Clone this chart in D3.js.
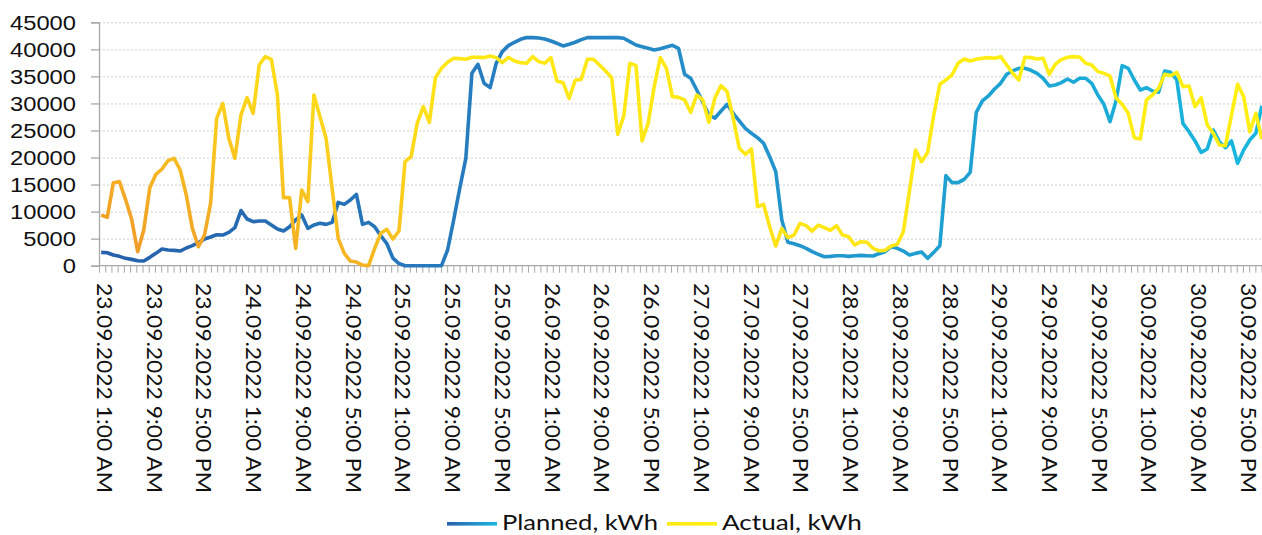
<!DOCTYPE html>
<html><head><meta charset="utf-8">
<script src="https://cdn.jsdelivr.net/npm/d3@7"></script>
<style>
html,body{margin:0;padding:0;background:#fff;}
svg{display:block;font-family:Lato,"Open Sans",sans-serif;}
</style>
</head><body>
<svg id="c" width="1262" height="535"></svg>
<script>
const xLabels = [
"23.09.2022 1:00 AM","23.09.2022 9:00 AM","23.09.2022 5:00 PM",
"24.09.2022 1:00 AM","24.09.2022 9:00 AM","24.09.2022 5:00 PM",
"25.09.2022 1:00 AM","25.09.2022 9:00 AM","25.09.2022 5:00 PM",
"26.09.2022 1:00 AM","26.09.2022 9:00 AM","26.09.2022 5:00 PM",
"27.09.2022 1:00 AM","27.09.2022 9:00 AM","27.09.2022 5:00 PM",
"28.09.2022 1:00 AM","28.09.2022 9:00 AM","28.09.2022 5:00 PM",
"29.09.2022 1:00 AM","29.09.2022 9:00 AM","29.09.2022 5:00 PM",
"30.09.2022 1:00 AM","30.09.2022 9:00 AM","30.09.2022 5:00 PM"];
const yTicks = [0,5000,10000,15000,20000,25000,30000,35000,40000,45000];
const seriesNames = ["Planned, kWh","Actual, kWh"];

const planned = [
2470,2400,1970,1730,1360,1170,920,860,1540,2280,
3080,2900,2840,2710,3270,3700,4250,4930,5300,5730,
5670,6170,7030,10200,8630,8140,8260,8260,7520,6780,
6410,7210,8450,9370,6900,7520,7830,7640,8010,11710,
11340,12140,13190,7640,8010,7210,5550,4100,1400,400,
0,0,0,0,0,0,0,2900,8450,14300,
19850,35570,37240,33720,32920,37420,39580,40690,41310,41860,
42170,42170,42110,41920,41550,41120,40630,40940,41310,41800,
42170,42170,42170,42170,42170,42170,42050,41430,40810,40500,
40200,39890,40130,40440,40750,40200,35390,34650,32490,30210,
27870,27300,28600,29840,28170,26760,25400,24480,23670,22630,
20160,17390,8450,4320,4070,3700,3210,2590,2100,1660,
1730,1850,1850,1730,1850,1910,1850,1790,2220,2590,
3510,3210,2710,1970,2280,2530,1360,2470,3700,16650,
15350,15350,15970,17260,28360,30460,31380,32670,33720,35390,
36000,36500,36500,36130,35570,34650,33230,33410,33850,34520,
33910,34650,34650,33720,31560,29840,26630,30500,36990,36500,
34340,32490,32920,32300,32060,36000,35760,34340,26320,24780,
23060,20960,21580,25090,22930,21820,23060,18930,21390,23240,
24480,29590];

const actual = [
9370,8940,15350,15540,12270,8630,2590,6600,14430,16890,
17880,19420,19850,17690,13070,6900,3510,5670,11530,27250,
30020,23550,19850,27870,31070,28170,37110,38650,38160,31560,
12580,12580,3200,13990,11840,31560,27560,23550,14300,5060,
2280,860,680,120,0,3200,5980,6720,4930,6410,
19230,20160,26320,29410,26510,34770,36500,37610,38350,38280,
38160,38530,38530,38470,38780,38470,37540,38530,37850,37540,
37420,38650,37730,37420,38470,34150,33840,30950,34280,34460,
38160,38160,37110,36000,34770,24290,27740,37420,36990,23060,
26320,33110,38470,36500,31260,31130,30640,28360,31560,30640,
26510,31070,33290,32180,27250,21700,20590,21580,10910,11340,
7210,3640,6900,5180,5670,7830,7400,6410,7520,7030,
6530,7400,5670,5360,3820,4440,4320,3210,2770,2840,
3640,3950,6290,13810,21390,19230,20960,27870,33540,34340,
35260,37420,38220,37850,38160,38350,38470,38350,38650,37110,
35570,34340,38530,38470,38220,38350,35390,37240,38100,38530,
38650,38590,37420,37110,35880,35570,35080,31000,29840,28170,
23670,23430,30640,31560,32800,35390,35140,35760,33110,33230,
29410,31070,26020,24480,22320,22190,27870,33540,31260,24780,
28170,23430];

const svg = d3.select("#c");
const axisX0 = 99, plotRight = 1262;
const y = d3.scaleLinear().domain([0,45000]).range([265.7,22.3]);
const nTicks = 188;
const xAxisScale = d3.scaleLinear().domain([0, nTicks-1]).range([axisX0, axisX0 + 6.217*(nTicks-1)]);
const xData = d3.scaleLinear().domain([0, planned.length-1]).range([101.2, 101.2 + 6.077*(planned.length-1)]);

const defs = svg.append("defs");
function grad(id, attrs, stops){
  const g = defs.append("linearGradient").attr("id", id);
  Object.entries(attrs).forEach(([k,v])=>g.attr(k,v));
  stops.forEach(([o,c])=>g.append("stop").attr("offset",o).attr("stop-color",c));
}
const blueStops = [[0,"#2660ab"],[0.45,"#2688c6"],[1,"#18b7dd"]];
grad("gBlue",{gradientUnits:"userSpaceOnUse",x1:100,y1:0,x2:1262,y2:0},blueStops);
grad("gBlueLeg",{gradientUnits:"userSpaceOnUse",x1:447,y1:0,x2:497,y2:0},blueStops);
const yelStops = [[0,"#ee9528"],[0.12,"#f3aa25"],[0.22,"#f8c21f"],[0.35,"#fdd81a"],[0.5,"#ffe715"],[1,"#fff012"]];
grad("gYel",{x1:0,y1:1,x2:1.207,y2:0.483},yelStops);
grad("gYelLeg",{gradientUnits:"userSpaceOnUse",x1:600,y1:0,x2:717,y2:0},yelStops);

const grid = svg.append("g").attr("transform",`translate(${axisX0},0)`)
  .call(d3.axisLeft(y).tickValues(yTicks.filter(v=>v>0)).tickSize(-(plotRight-axisX0)).tickFormat(""));
grid.select(".domain").remove();
grid.selectAll("line").attr("stroke","#cfcfcf").attr("stroke-width",1).attr("stroke-dasharray","2,2");

const yAx = svg.append("g").attr("transform",`translate(${axisX0},0)`)
  .call(d3.axisLeft(y).tickValues(yTicks).tickSize(8).tickPadding(15).tickFormat(d3.format("d")));
yAx.select(".domain").attr("stroke","#a8a8a8").attr("stroke-width",1.3);
yAx.selectAll("line").attr("stroke","#a8a8a8").attr("stroke-width",1.3);
yAx.selectAll("text").attr("fill","#111").attr("font-size",20).attr("dy",null)
  .attr("dominant-baseline","central")
  .attr("textLength",function(d){return 13.2*String(d).length;})
  .attr("lengthAdjust","spacingAndGlyphs");

const xAx = svg.append("g").attr("transform",`translate(0,${y(0)})`)
  .call(d3.axisBottom(xAxisScale).tickValues(d3.range(0,nTicks)).tickSize(7).tickFormat(""));
xAx.select(".domain").attr("stroke","#a8a8a8").attr("stroke-width",1.3).attr("d",`M${axisX0},0H${plotRight}`);
xAx.selectAll("line").attr("stroke","#a8a8a8").attr("stroke-width",1);

svg.append("g").selectAll("text").data(xLabels).join("text")
  .attr("transform",(d,i)=>`translate(${xAxisScale(i*8)+6.5},283) rotate(90)`)
  .attr("font-size",22).attr("fill","#111")
  .attr("dominant-baseline","central")
  .attr("textLength",210).attr("lengthAdjust","spacingAndGlyphs")
  .text(d=>d);

const line = d3.line().x((d,i)=>xData(i)).y(d=>y(d));
svg.append("path").datum(planned).attr("d",line).attr("fill","none")
  .attr("stroke","url(#gBlue)").attr("stroke-width",3.6).attr("stroke-linejoin","round");
svg.append("path").datum(actual).attr("d",line).attr("fill","none")
  .attr("stroke","url(#gYel)").attr("stroke-width",3.6).attr("stroke-linejoin","round");

const leg = svg.append("g");
const legItems = [
  {name:seriesNames[0], mx:447, tx:502, w:156, fill:"url(#gBlueLeg)"},
  {name:seriesNames[1], mx:667, tx:722, w:140, fill:"url(#gYelLeg)"}];
legItems.forEach(it=>{
  leg.append("rect").attr("x",it.mx).attr("y",522).attr("width",50).attr("height",3.6).attr("fill",it.fill);
  const t = leg.append("text").attr("x",0).attr("y",0).attr("font-size",22).attr("fill","#111").text(it.name);
  const natural = t.node().getComputedTextLength();
  t.attr("transform",`translate(${it.tx},530) scale(${it.w/natural},1)`);
});
</script>
</body></html>
